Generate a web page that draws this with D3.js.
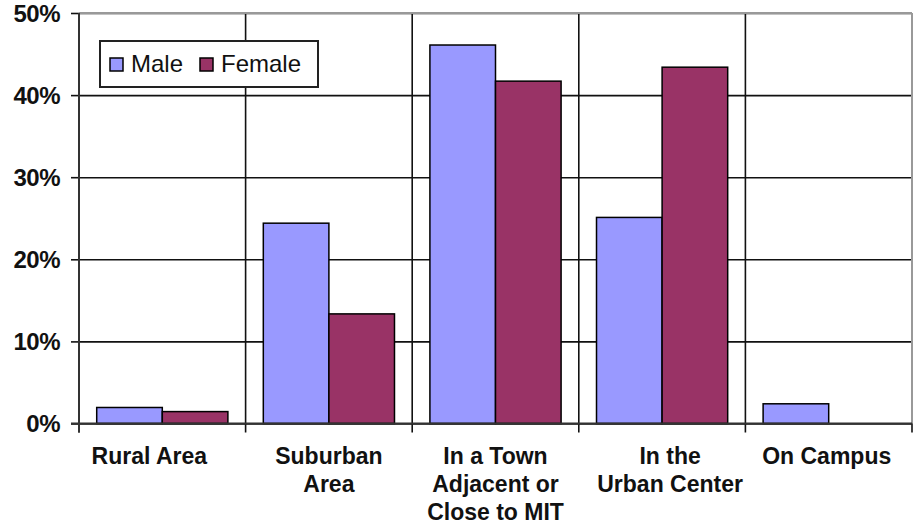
<!DOCTYPE html>
<html>
<head>
<meta charset="utf-8">
<script src="https://cdn.jsdelivr.net/npm/d3@7"></script>
<style>
  html, body { margin: 0; padding: 0; background: #fff; }
  svg { display: block; }
</style>
</head>
<body>
<svg id="chart" width="916" height="527"></svg>
<script>
const categories = ["Rural Area", "Suburban Area", "In a Town Adjacent or Close to MIT", "In the Urban Center", "On Campus"];
const categoryLines = [["Rural Area"], ["Suburban", "Area"], ["In a Town", "Adjacent or", "Close to MIT"], ["In the", "Urban Center"], ["On Campus"]];
const seriesNames = ["Male", "Female"];
const maleValues = [1.95, 24.4, 46.1, 25.1, 2.4];
const femaleValues = [1.45, 13.35, 41.7, 43.4, 0];
const yTicks = [0, 10, 20, 30, 40, 50];
const yTickLabels = ["0%", "10%", "20%", "30%", "40%", "50%"];

const colors = { Male: "#9999FF", Female: "#993366" };
const labelShift = [-13, 0, 0, 8, -2];

(function () {
const svg = d3.select("#chart");
const pLeft = 79, pRight = 912, pTop = 13, pBottom = 423.5;

const x = d3.scaleBand().domain(categories).range([pLeft, pRight]).paddingInner(0).paddingOuter(0);
const xs = d3.scaleBand().domain(seriesNames).range([0, x.bandwidth()]).paddingInner(0).paddingOuter(0.27);
const y = d3.scaleLinear().domain([0, 50]).range([pBottom, pTop]);

const data = categories.map((c, i) => ({ cat: c, Male: maleValues[i], Female: femaleValues[i] }));

// horizontal gridlines + left ticks
const gy = svg.append("g").attr("transform", `translate(${pLeft},0)`)
  .call(d3.axisLeft(y).tickValues(yTicks).tickSizeInner(-(pRight - pLeft)).tickSizeOuter(0).tickFormat(""));
gy.select(".domain").remove();
gy.selectAll("line").attr("stroke", "#111").attr("stroke-width", 1.6);
svg.append("g").attr("transform", `translate(${pLeft},0)`)
  .call(d3.axisLeft(y).tickValues(yTicks).tickSize(8).tickFormat(""))
  .call(g => g.select(".domain").remove())
  .call(g => g.selectAll("line").attr("stroke", "#111").attr("stroke-width", 1.6));

// vertical category dividers
const dividers = categories.map(c => x(c)).concat([pRight]);
svg.append("g").selectAll("line").data(dividers).join("line")
  .attr("x1", d => d).attr("x2", d => d)
  .attr("y1", pTop).attr("y2", pBottom + 9)
  .attr("stroke", "#111").attr("stroke-width", 1.6);

// plot border top/right gray
svg.append("line").attr("x1", pLeft).attr("x2", pRight).attr("y1", y(50)).attr("y2", y(50))
  .attr("stroke", "#999").attr("stroke-width", 2);
svg.append("line").attr("x1", pRight).attr("x2", pRight).attr("y1", pTop).attr("y2", pBottom)
  .attr("stroke", "#999").attr("stroke-width", 2);

// bars
const groups = svg.append("g").selectAll("g").data(data).join("g")
  .attr("transform", d => `translate(${x(d.cat)},0)`);
groups.selectAll("rect").data(d => seriesNames.map(s => ({ s, v: d[s] })).filter(e => e.v > 0)).join("rect")
  .attr("x", d => xs(d.s))
  .attr("width", xs.bandwidth())
  .attr("y", d => y(d.v))
  .attr("height", d => y(0) - y(d.v))
  .attr("fill", d => colors[d.s])
  .attr("stroke", "#000")
  .attr("stroke-width", 1.5);

// axes lines
svg.append("line").attr("x1", pLeft - 8).attr("x2", pRight).attr("y1", y(0)).attr("y2", y(0))
  .attr("stroke", "#333").attr("stroke-width", 2);
svg.append("line").attr("x1", pLeft).attr("x2", pLeft).attr("y1", pTop).attr("y2", pBottom + 9)
  .attr("stroke", "#333").attr("stroke-width", 2);

// y tick labels
svg.append("g").selectAll("text").data(yTicks).join("text")
  .attr("x", 60).attr("y", d => y(d)).attr("dy", "0.36em")
  .attr("text-anchor", "end")
  .attr("font-family", "Liberation Sans, Arial, sans-serif")
  .attr("font-weight", "bold").attr("font-size", 24)
  .attr("letter-spacing", -0.5)
  .attr("fill", "#111")
  .text((d, i) => yTickLabels[i]);

// category labels
const lab = svg.append("g").selectAll("text").data(categories).join("text")
  .attr("x", (d, i) => x(d) + x.bandwidth() / 2 + labelShift[i])
  .attr("y", 463.5)
  .attr("text-anchor", "middle")
  .attr("font-family", "Liberation Sans, Arial, sans-serif")
  .attr("font-weight", "bold").attr("font-size", 23)
  .attr("fill", "#111");
lab.each(function (d, i) {
  const t = d3.select(this);
  const cx = x(d) + x.bandwidth() / 2 + labelShift[i];
  categoryLines[i].forEach((line, j) => {
    t.append("tspan").attr("x", cx).attr("dy", j === 0 ? 0 : 28.3).text(line);
  });
});

// legend
const lg = svg.append("g");
lg.append("rect").attr("x", 100).attr("y", 41).attr("width", 218).attr("height", 46)
  .attr("fill", "#fff").attr("stroke", "#222").attr("stroke-width", 2);
const legendX = [110, 200];
seriesNames.forEach((s, i) => {
  lg.append("rect").attr("x", legendX[i]).attr("y", 58).attr("width", 13).attr("height", 13)
    .attr("fill", colors[s]).attr("stroke", "#000").attr("stroke-width", 1.5);
  lg.append("text").attr("x", legendX[i] + 21).attr("y", 72)
    .attr("font-family", "Liberation Sans, Arial, sans-serif").attr("font-size", 24)
    .attr("fill", "#111").text(s);
});
})();
</script>
</body>
</html>
